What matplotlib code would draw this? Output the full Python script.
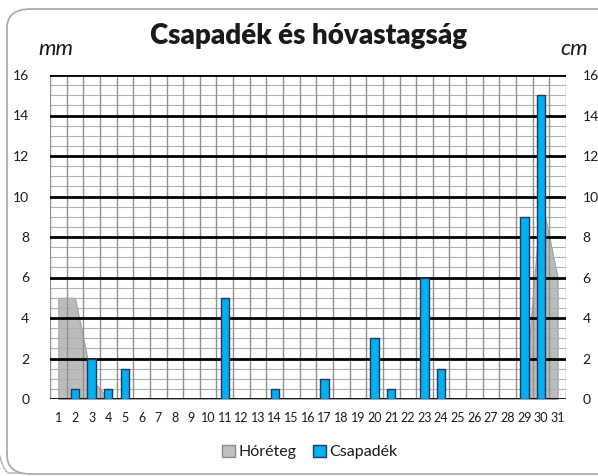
import numpy as np
import matplotlib.pyplot as plt
from matplotlib.patches import FancyBboxPatch, Patch

plt.rcParams['font.family'] = ['Lato', 'DejaVu Sans']

days = list(range(1, 32))
day_labels = [str(d) for d in days]
# csapadék (mm) napi értékek
csapadek = [0, 0.5, 2, 0.5, 1.5, 0, 0, 0, 0, 0, 5, 0, 0, 0.5, 0, 0, 1, 0, 0, 3,
            0.5, 0, 6, 1.5, 0, 0, 0, 0, 9, 15, 0]
# hóréteg (cm)
horeteg = [5, 5, 1, 0, 0, 0, 0, 0, 0, 0, 0, 0, 0, 0, 0, 0, 0, 0, 0, 0,
           0, 0, 0, 0, 0, 0, 0, 0, 0, 10, 6]
yticks = [0, 2, 4, 6, 8, 10, 12, 14, 16]

txt = '#1a1a1a'

fig = plt.figure(figsize=(5.98, 4.76), dpi=100)

# keretek
fig.patches.append(FancyBboxPatch((-20 / 598, 3 / 476), 640 / 598, 500 / 476,
                                  boxstyle='round,pad=0,rounding_size=0.05',
                                  transform=fig.transFigure, fill=False,
                                  ec='#b0b0b0', lw=1, zorder=-2))
fig.patches.append(FancyBboxPatch((7 / 598, 2 / 476), 620 / 598, 465 / 476,
                                  boxstyle='round,pad=0,rounding_size=0.04',
                                  transform=fig.transFigure, fc='white',
                                  ec='#a6a6a6', lw=1.2, zorder=-1))

ax = fig.add_axes([50 / 598, 1 - 399 / 476, 516 / 598, 324 / 476])
ax.set_xlim(0.5, 31.5)
ax.set_ylim(0, 16)
ax.patch.set_alpha(0)

# háttér rács
for y in np.arange(0, 16.01, 0.5):
    if y % 2 == 0:
        ax.axhline(y, color='black', lw=2, zorder=2)
    else:
        ax.axhline(y, color='#b0b0b0', lw=0.8, zorder=1.5)
for x in np.arange(0.5, 31.6, 1):
    ax.axvline(x, color='#909090', lw=1, zorder=1.6)

ax.fill_between(days, horeteg, color='#a6a6a6', alpha=0.75, lw=0.8,
                edgecolor='#8c8c8c', zorder=1.2)
ax.bar(days, csapadek, width=0.5, color='#00B0F0', edgecolor='#1F3864',
       lw=1, zorder=3)

for s in ax.spines.values():
    s.set_visible(False)
ax.set_xticks(days)
ax.set_xticklabels(day_labels)
ax.set_yticks(yticks)
ax.tick_params(axis='x', length=0, pad=9, labelsize=9, colors=txt)
ax.tick_params(axis='y', length=0, pad=15, labelsize=10, colors=txt)

ax2 = ax.twinx()
ax2.set_ylim(0, 16)
ax2.set_yticks(yticks)
for s in ax2.spines.values():
    s.set_visible(False)
ax2.tick_params(axis='y', length=0, pad=12, labelsize=10, colors=txt)

fig.text(309 / 598, 1 - 36 / 476, 'Csapadék és hóvastagság', ha='center',
         va='center', fontsize=20, fontweight='heavy', color=txt)
fig.text(56 / 598, 1 - 49 / 476, 'mm', ha='center', va='center',
         fontsize=16, style='italic', color=txt)
fig.text(574 / 598, 1 - 49 / 476, 'cm', ha='center', va='center',
         fontsize=16, style='italic', color=txt)

handles = [Patch(facecolor='#bfbfbf', edgecolor='#8c8c8c', label='Hóréteg'),
           Patch(facecolor='#00B0F0', edgecolor='#1F3864', label='Csapadék')]
fig.legend(handles=handles, loc='center', bbox_to_anchor=(310 / 598, 1 - 452 / 476),
           ncol=2, frameon=False, fontsize=11.5, handlelength=0.8,
           handleheight=0.8, handletextpad=0.25, columnspacing=1.0,
           labelcolor=txt)

fig.savefig('out.png', dpi=100)
